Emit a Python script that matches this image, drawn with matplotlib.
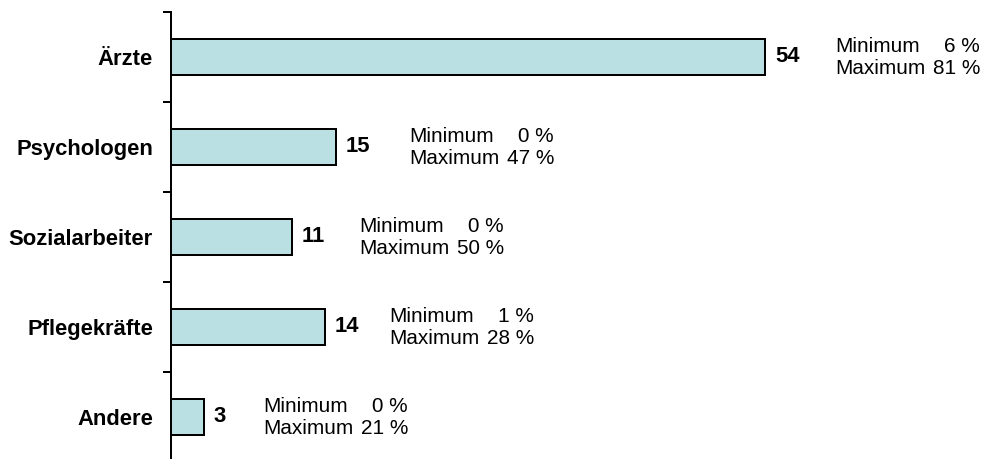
import matplotlib
matplotlib.use("Agg")
import matplotlib.pyplot as plt
from matplotlib.ticker import FixedLocator

categories = ["Ärzte", "Psychologen", "Sozialarbeiter", "Pflegekräfte", "Andere"]
values = [54, 15, 11, 14, 3]
minimum = [6, 0, 0, 1, 0]
maximum = [81, 47, 50, 28, 21]

# text-block offsets (px) from bar end
block_offset = [70, 73, 67, 64, 59]

DPI = 72
fig = plt.figure(figsize=(985 / DPI, 459 / DPI), dpi=DPI)
plt.rcParams['font.family'] = ['Liberation Sans', 'DejaVu Sans']

left = 171 / 985
top = 12 / 459
height = 450 / 459
ax = fig.add_axes([left, 1 - top - height, 1 - left, height])

y = list(range(len(categories)))
ax.barh(y, values, height=0.4, color="#BBE0E3", edgecolor="black", linewidth=2)

ax.set_xlim(0, (985 - 171) / 11)
ax.set_ylim(len(categories) - 0.5, -0.5)

for s in ["top", "right", "bottom"]:
    ax.spines[s].set_visible(False)
ax.spines["left"].set_linewidth(2)
ax.set_xticks([])

ax.yaxis.set_major_locator(FixedLocator([i - 0.5 for i in range(len(categories) + 1)]))
ax.yaxis.set_major_formatter(plt.NullFormatter())
ax.tick_params(axis="y", which="major", length=8, width=2, direction="out")
ax.yaxis.set_minor_locator(FixedLocator(y))
ax.set_yticklabels(categories, minor=True, fontsize=22, fontweight="bold")
ax.tick_params(axis="y", which="minor", length=0, pad=18)

for i, v in enumerate(values):
    ax.annotate(str(v), xy=(v, i), xytext=(10, 0), textcoords="offset points",
                ha="left", va="center", fontsize=22, fontweight="bold", annotation_clip=False)
    off = block_offset[i]
    for dy, lab, num in [(11, "Minimum", minimum[i]), (-11, "Maximum", maximum[i])]:
        ax.annotate(lab, xy=(v, i), xytext=(off, dy), textcoords="offset points",
                    ha="left", va="center", fontsize=20.8, annotation_clip=False)
        ax.annotate(f"{num} %", xy=(v, i), xytext=(off + 145, dy), textcoords="offset points",
                    ha="right", va="center", fontsize=20.8, annotation_clip=False)

fig.savefig("out.png", dpi=DPI)
